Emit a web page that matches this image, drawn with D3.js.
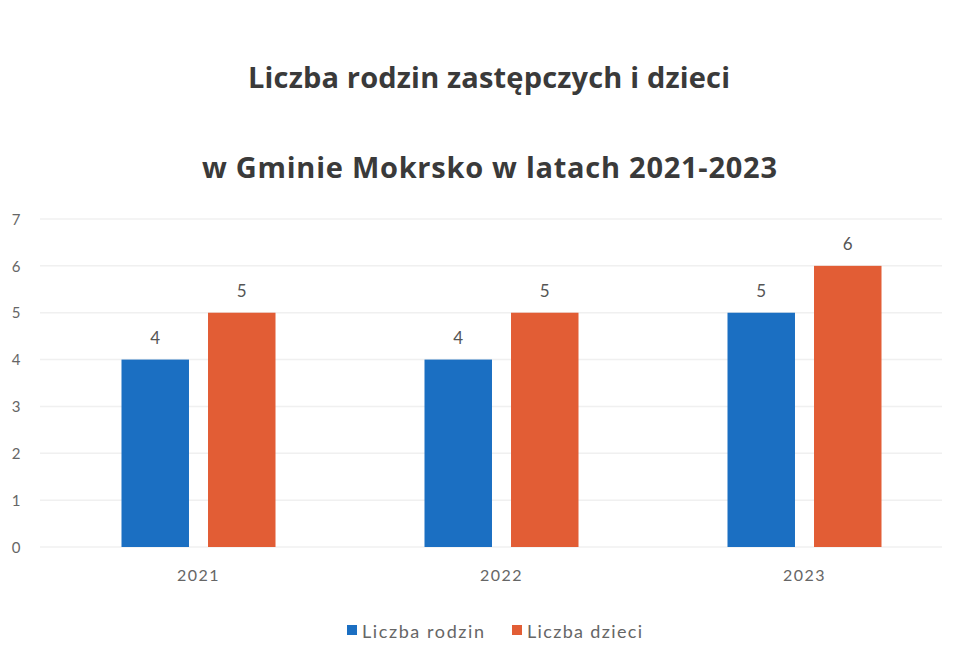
<!DOCTYPE html>
<html><head><meta charset="utf-8">
<script src="https://cdn.jsdelivr.net/npm/d3@7"></script>
<style>body{margin:0;background:#fff}svg{display:block}</style>
</head><body>
<script>
const categories = ["2021", "2022", "2023"];
const seriesNames = ["Liczba rodzin", "Liczba dzieci"];
const rodzin = [4, 4, 5];
const dzieci = [5, 5, 6];
const yTicks = [0, 1, 2, 3, 4, 5, 6, 7];
const titleLines = ["Liczba rodzin zastępczych i dzieci", "w Gminie Mokrsko w latach 2021-2023"];
const colors = ["#1b6fc2", "#e25d35"];

const W = 971, H = 662;
const svg = d3.select("body").append("svg").attr("width", W).attr("height", H);
const font = "Lato, 'Open Sans', sans-serif";

const x0 = d3.scaleBand().domain(categories).range([47, 956]).paddingInner(0).paddingOuter(0);
const x1 = d3.scaleBand().domain(seriesNames).range([0, 154]).paddingInner(0.22);
const y = d3.scaleLinear().domain([0, 7]).range([547, 219]);

// gridlines
svg.append("g").selectAll("line").data(yTicks).join("line")
  .attr("x1", 40).attr("x2", 942)
  .attr("y1", d => y(d)).attr("y2", d => y(d))
  .attr("stroke", "#f0f0f0").attr("stroke-width", 1.5);

// y axis
const yAxis = d3.axisLeft(y).tickValues(yTicks).tickFormat(d3.format("d")).tickSize(0).tickPadding(0);
const ya = svg.append("g").attr("transform", "translate(16,0)").call(yAxis);
ya.select(".domain").remove();
ya.selectAll("text").attr("font-family", font).attr("font-size", 15).attr("fill", "#666")
  .attr("text-anchor", "middle").attr("dy", "0.35em");

// x axis
const xAxis = d3.axisBottom(x0).tickSize(0).tickPadding(0);
const xa = svg.append("g").attr("transform", "translate(0,570)").call(xAxis);
xa.select(".domain").remove();
xa.selectAll("text").attr("font-family", font).attr("font-size", 16).attr("fill", "#666")
  .attr("letter-spacing", 1.5);

const data = categories.map((c, i) => ({cat: c, vals: [rodzin[i], dzieci[i]]}));
const groups = svg.append("g").selectAll("g").data(data).join("g")
  .attr("transform", d => `translate(${x0(d.cat) + (x0.bandwidth() - 154) / 2},0)`);

groups.selectAll("rect").data(d => d.vals.map((v, j) => ({name: seriesNames[j], v, j})))
  .join("rect")
  .attr("x", d => x1(d.name)).attr("width", x1.bandwidth())
  .attr("y", d => y(d.v)).attr("height", d => y(0) - y(d.v))
  .attr("fill", d => colors[d.j]);

groups.selectAll("text.lbl").data(d => d.vals.map((v, j) => ({name: seriesNames[j], v, j})))
  .join("text").attr("class", "lbl")
  .attr("x", d => x1(d.name) + x1.bandwidth() / 2)
  .attr("y", d => y(d.v) - 16)
  .attr("text-anchor", "middle")
  .attr("font-family", font).attr("font-size", 17).attr("fill", "#555")
  .text(d => d.v);

// title
const titleX = [248, 202];
const titleW = [482, 575];
const titleY = [88, 178];
svg.append("g").selectAll("text").data(titleLines).join("text")
  .attr("x", (d, i) => titleX[i])
  .attr("y", (d, i) => titleY[i])
  .attr("textLength", (d, i) => titleW[i]).attr("lengthAdjust", "spacing")
  .attr("font-family", "'Open Sans', Lato, sans-serif").attr("font-weight", "bold").attr("font-size", 29)
  .attr("fill", "#3a3a3a")
  .text(d => d);

// legend
const legendX = [347, 512];
const legendW = [122, 115];
const lg = svg.append("g").selectAll("g").data(seriesNames).join("g")
  .attr("transform", (d, i) => `translate(${legendX[i]},625)`);
lg.append("rect").attr("width", 10).attr("height", 10).attr("fill", (d, i) => colors[i]);
lg.append("text").attr("x", 15).attr("y", 13)
  .attr("textLength", (d, i) => legendW[i]).attr("lengthAdjust", "spacing")
  .attr("font-family", font).attr("font-size", 18).attr("fill", "#666")
  .text(d => d);
</script>
</body></html>
